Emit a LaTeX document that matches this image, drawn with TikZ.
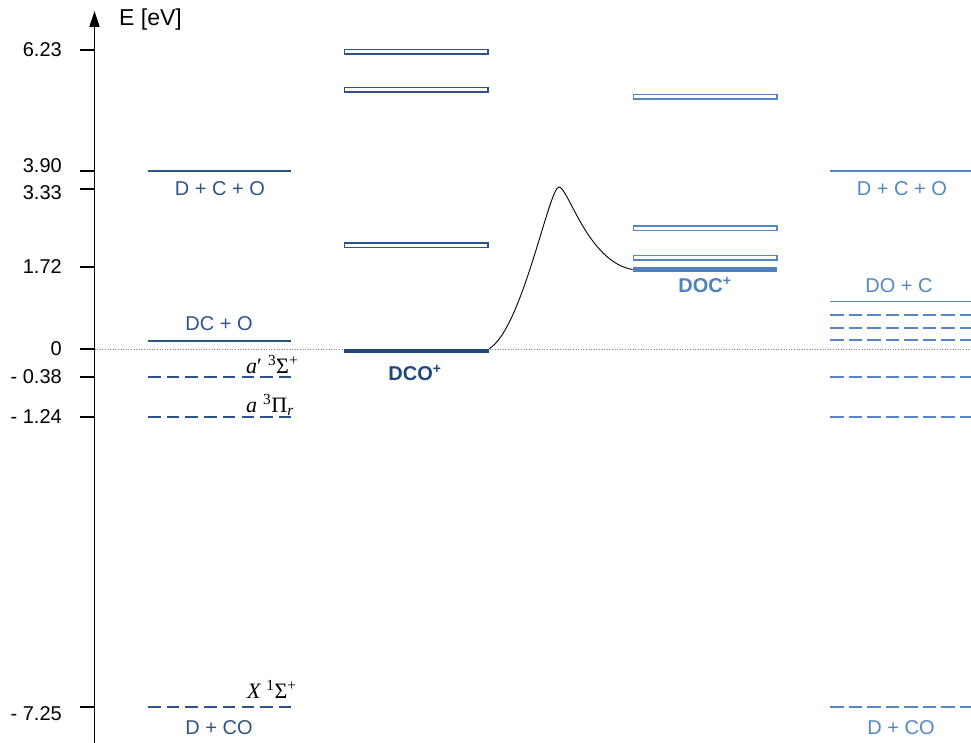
\documentclass[tikz,border=0pt]{standalone}
\usepackage{fontspec}
\setmainfont{Liberation Sans}
\newfontfamily\tsfont{Liberation Serif}
\usetikzlibrary{arrows.meta}
\definecolor{dkblue}{RGB}{46,84,134}
\definecolor{dcobar}{RGB}{31,73,125}
\definecolor{ltblue}{RGB}{85,135,196}
\definecolor{docbar}{RGB}{79,129,189}
\tikzset{
  lab/.style={inner sep=0pt, font=\fontsize{20}{21}\selectfont},
  ticklab/.style={lab, anchor=east},
  term/.style={inner sep=0pt, anchor=base west, font=\tsfont\fontsize{22}{24}\selectfont},
  lvlL/.style={draw=dkblue, line width=1.7pt},
  lvlR/.style={draw=ltblue, line width=1.7pt},
  dashL/.style={draw=dkblue, line width=1.7pt, dash pattern=on 12.5pt off 6.2pt},
  dashR/.style={draw=ltblue, line width=1.7pt, dash pattern=on 13.5pt off 5pt},
  boxD/.style={draw=dkblue, fill=white, line width=1.5pt, inner sep=0pt, minimum width=143.5pt, minimum height=4.5pt},
  boxL/.style={draw=ltblue, fill=white, line width=1.5pt, inner sep=0pt, minimum width=143.5pt, minimum height=4.5pt},
  bar/.style={inner sep=0pt, minimum width=145pt, minimum height=4.5pt},
  tickline/.style={line width=1.3pt},
}
\begin{document}
\begin{tikzpicture}[x=1pt, y=-1pt]
\useasboundingbox (0,0) rectangle (971,743);
% axis
\coordinate (axbot) at (94.5,743);
\coordinate (axtop) at (94.5,11);
\draw[line width=1.7pt, -{Triangle[length=16pt,width=10pt]}] (axbot) -- (axtop);
\node[lab, anchor=west, font=\fontsize{23}{24}\selectfont] (elab) at (119,20) {E [eV]};
% ticks
\foreach \yy/\nm in {50/a,171/b,189/c,267/d,349/e,377/f,417/g,707/h}{
  \coordinate (t\nm) at (94.5,\yy);
  \draw[tickline] (80,\yy) -- (t\nm);
}
\node[ticklab] (l1) at (62,50) {6.23};
\node[ticklab] (l2) at (62,166) {3.90};
\node[ticklab] (l3) at (62,193) {3.33};
\node[ticklab] (l4) at (62,267) {1.72};
\node[ticklab] (l5) at (62,349) {0};
\node[ticklab] (l6) at (62,377) {- 0.38};
\node[ticklab] (l7) at (62,417) {- 1.24};
\node[ticklab] (l8) at (62,714) {- 7.25};
% zero dotted line
\coordinate (zend) at (971,349);
\draw[gray, dotted, line width=0.6pt] (te) -- (zend);
% left column
\draw[lvlL] (148,171) -- (291,171);
\node[lab, text=dkblue] (ldco) at (220,189) {D + C + O};
\draw[lvlL] (148,341) -- (291,341);
\node[lab, text=dkblue] (ldc) at (219,324) {DC + O};
\draw[dashL] (148,377) -- (291,377);
\draw[dashL] (148,417) -- (291,417);
\draw[dashL] (148,707) -- (291,707);
\node[lab, text=dkblue] (ldco2) at (219,728) {D + CO};
\node[term] (t1) at (246,373) {\textit{a}′\hspace{6pt}\textsuperscript{3}Σ\textsuperscript{+}};
\node[term] (t2) at (246,412) {\textit{a}\hspace{6pt}\textsuperscript{3}Π\textsubscript{\textit{r}}};
\node[term] (t3) at (247,698) {\textit{X}\hspace{5pt}\textsuperscript{1}Σ\textsuperscript{+}};
% DCO+ column
\node[boxD] (m1) at (416.3,51.8) {};
\node[boxD] (m2) at (416.3,89.8) {};
\node[boxD] (m3) at (416.3,245.5) {};
\node[bar, fill=dcobar] (dco) at (416.3,351.2) {};
\node[lab, font=\bfseries\fontsize{20}{21}\selectfont, text=dcobar] (dcol) at (415,373) {DCO\textsuperscript{+}};
% DOC+ column
\node[boxL] (n1) at (705,96.8) {};
\node[boxL] (n2) at (705,228.4) {};
\node[boxL] (n3) at (705,257.8) {};
\node[bar, fill=docbar, minimum width=144.5pt] (doc) at (705,269.5) {};
\node[lab, font=\bfseries\fontsize{20}{21}\selectfont, text=docbar] (docl) at (705,285) {DOC\textsuperscript{+}};
% curve
\coordinate (peak) at (559,187);
\draw[line width=0.9pt] (dco.north east) .. controls (522,330) and (549,187) .. (peak)
  .. controls (568,187) and (588,262) .. (doc.west);
% right column
\draw[lvlR] (830,171) -- (971,171);
\node[lab, text=ltblue] (rdco) at (902,189) {D + C + O};
\node[lab, text=ltblue] (rdo) at (899,286) {DO + C};
\draw[lvlR] (830,301.5) -- (971,301.5);
\draw[dashR] (830,315) -- (971,315);
\draw[dashR] (830,328) -- (971,328);
\draw[dashR] (830,340) -- (971,340);
\draw[dashR] (830,377) -- (971,377);
\draw[dashR] (830,417) -- (971,417);
\draw[dashR] (830,707) -- (971,707);
\node[lab, text=ltblue] (rdco2) at (901,728) {D + CO};
\end{tikzpicture}
\end{document}
